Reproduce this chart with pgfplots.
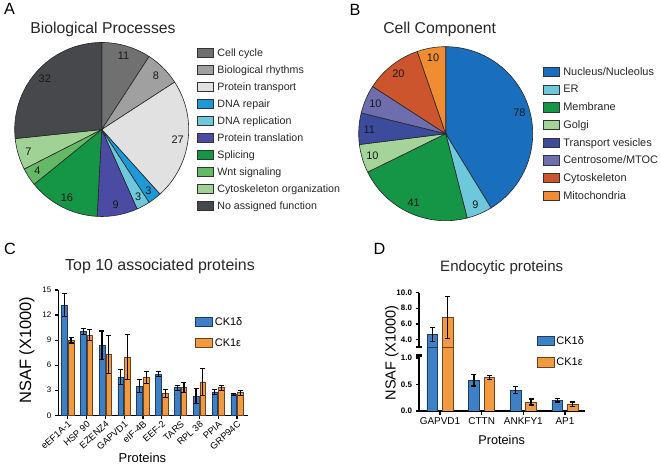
\documentclass[border=0pt]{standalone}
\usepackage{pgfplots}
\usepackage{pgfplotstable}
\usepackage{fontspec}
\setmainfont{Liberation Sans}
\pgfplotsset{compat=1.18}

% pie colours
\definecolor{bpA}{HTML}{707070}
\definecolor{bpB}{HTML}{A0A0A0}
\definecolor{bpC}{HTML}{E1E1E1}
\definecolor{bpD}{HTML}{1B9AD7}
\definecolor{bpE}{HTML}{6EC8DC}
\definecolor{bpF}{HTML}{4B4BA3}
\definecolor{bpG}{HTML}{149646}
\definecolor{bpH}{HTML}{64B964}
\definecolor{bpI}{HTML}{A0D296}
\definecolor{bpJ}{HTML}{46484B}
\definecolor{ccA}{HTML}{196EBE}
\definecolor{ccB}{HTML}{6EC8DC}
\definecolor{ccC}{HTML}{149646}
\definecolor{ccD}{HTML}{A5D49B}
\definecolor{ccE}{HTML}{3C4B9B}
\definecolor{ccF}{HTML}{6E6EAF}
\definecolor{ccG}{HTML}{CD552D}
\definecolor{ccH}{HTML}{F08C32}
% bar colours
\definecolor{ckd}{HTML}{3D80C6}
\definecolor{ckdl}{HTML}{1E3C5E}
\definecolor{cke}{HTML}{F29A3F}
\definecolor{ckel}{HTML}{6A4320}

\pgfplotstableread{
v  c
11 bpA
8  bpB
27 bpC
3  bpD
3  bpE
9  bpF
16 bpG
4  bpH
7  bpI
32 bpJ
}\bioproc

\pgfplotstableread{
v  c
78 ccA
9  ccB
41 ccC
10 ccD
11 ccE
10 ccF
20 ccG
10 ccH
}\cellcomp

% NSAF (x1000), mean and error, CK1d / CK1e
\pgfplotstableread{
x  d     de    e     ee
0  13.2  1.4   9.0   0.35
1  10.0  0.35  9.6   0.65
2  8.4   1.7   7.3   2.3
3  4.6   0.9   7.0   2.7
4  3.5   0.8   4.5   0.7
5  4.9   0.3   2.6   0.45
6  3.3   0.3   3.3   0.6
7  2.3   0.9   4.0   1.6
8  2.8   0.3   3.3   0.3
9  2.5   0.15  2.7   0.3
}\topten

\pgfplotstableread{
x  d     de    e     ee
0  4.64  0.9   6.85  2.67
1  0.58  0.11  0.635 0.04
2  0.395 0.07  0.17  0.055
3  0.20  0.03  0.13  0.04
}\endo

% slices of a pie from a table with columns v (value) and c (colour)
\newcommand\drawpie[1]{%
  \pgfplotstablegetrowsof{#1}%
  \pgfmathtruncatemacro\lastrow{\pgfplotsretval-1}%
  \gdef\pietotal{0}%
  \foreach \i in {0,...,\lastrow}{%
    \pgfplotstablegetelem{\i}{v}\of{#1}%
    \pgfmathsetmacro\tmp{\pietotal+\pgfplotsretval}%
    \global\let\pietotal\tmp
  }%
  \gdef\pieacc{0}%
  \foreach \i in {0,...,\lastrow}{%
    \pgfplotstablegetelem{\i}{v}\of{#1}\let\pv\pgfplotsretval
    \pgfplotstablegetelem{\i}{c}\of{#1}\let\pc\pgfplotsretval
    \pgfmathsetmacro\sa{90-\pieacc/\pietotal*360}%
    \pgfmathsetmacro\ea{90-(\pieacc+\pv)/\pietotal*360}%
    \pgfmathsetmacro\ma{(\sa+\ea)/2}%
    \pgfmathsetmacro\px{cos(\sa)}%
    \pgfmathsetmacro\py{sin(\sa)}%
    \pgfmathsetmacro\lx{0.88*cos(\ma)}%
    \pgfmathsetmacro\ly{0.88*sin(\ma)}%
    \filldraw[fill=\pc, draw=black!85, line width=0.6bp]
      (axis cs:0,0) -- (axis cs:\px,\py)
      arc[start angle=\sa, end angle=\ea, radius=87bp] -- cycle;
    \node[font=\fontsize{11}{13}\selectfont, text=black!90] at (axis cs:\lx,\ly) {\pv};
    \pgfmathsetmacro\tmp{\pieacc+\pv}%
    \global\let\pieacc\tmp
  }%
}

\pgfplotsset{
  pie/.style={
    scale only axis, width=174bp, height=174bp,
    xmin=-1, xmax=1, ymin=-1, ymax=1, hide axis, clip=false,
    legend image code/.code={\draw[draw=black!80, line width=0.5bp, ##1] (0bp,-1.2bp) rectangle (16bp,8bp);},
    legend style={draw=none, fill=none, inner sep=0pt, column sep=4bp, anchor=north west,
      text=black!85,
      nodes={inner sep=0pt, text height=8.5bp, text depth=2.5bp},
      cells={anchor=base west}},
  },
  barbox/.style={legend image code/.code={\draw[##1] (0bp,-1.3bp) rectangle (17bp,8.3bp);}},
  nsaf/.style={
    scale only axis, separate axis lines,
    axis x line*=bottom, axis y line*=left,
    axis line style={-, line width=1.5bp, black},
    tick align=outside, major tick length=3.5bp,
    tick style={line width=1.2bp, black},
    /pgf/number format/assume math mode=true,
    error bars/error bar style={line width=1.2bp, black},
    error bars/error mark options={rotate=90, mark size=2.5bp, line width=1.2bp, black},
    legend style={draw=none, fill=none, inner sep=0pt, column sep=2bp, anchor=north west,
      row sep=10bp, font=\fontsize{11}{13}\selectfont,
      nodes={inner sep=0pt, text height=8.5bp, text depth=2.5bp},
      cells={anchor=base west}},
  },
}

\begin{document}
\begin{tikzpicture}
\useasboundingbox (0,0) rectangle (660bp,470bp);

% ---- A
\node[anchor=base west, font=\fontsize{16.3}{18}\selectfont] at (0.5bp,455bp) {A};
\node[anchor=base, font=\fontsize{15.8}{18}\selectfont, text=black!85] at (103bp,436.7bp) {Biological Processes};
\begin{axis}[pie, at={(101.7bp,340.5bp)}, anchor=center,
  legend style={at={(axis description cs:1.046,0.972)}, row sep=6bp,
    font=\fontsize{10.7}{12}\selectfont}]
\pgfplotsextra{\drawpie{\bioproc}}
\addlegendimage{fill=bpA}\addlegendentry{Cell cycle}
\addlegendimage{fill=bpB}\addlegendentry{Biological rhythms}
\addlegendimage{fill=bpC}\addlegendentry{Protein transport}
\addlegendimage{fill=bpD}\addlegendentry{DNA repair}
\addlegendimage{fill=bpE}\addlegendentry{DNA replication}
\addlegendimage{fill=bpF}\addlegendentry{Protein translation}
\addlegendimage{fill=bpG}\addlegendentry{Splicing}
\addlegendimage{fill=bpH}\addlegendentry{Wnt signaling}
\addlegendimage{fill=bpI}\addlegendentry{Cytoskeleton organization}
\addlegendimage{fill=bpJ}\addlegendentry{No assigned function}
\end{axis}

% ---- B
\node[anchor=base west, font=\fontsize{16.3}{18}\selectfont] at (346bp,454bp) {B};
\node[anchor=base, font=\fontsize{15.8}{18}\selectfont, text=black!85] at (439.7bp,436.7bp) {Cell Component};
\begin{axis}[pie, at={(445.7bp,336.3bp)}, anchor=center,
  legend style={at={(axis description cs:1.057,0.886)}, row sep=6.7bp,
    font=\fontsize{11}{12}\selectfont}]
\pgfplotsextra{\drawpie{\cellcomp}}
\addlegendimage{fill=ccA}\addlegendentry{Nucleus/Nucleolus}
\addlegendimage{fill=ccB}\addlegendentry{ER}
\addlegendimage{fill=ccC}\addlegendentry{Membrane}
\addlegendimage{fill=ccD}\addlegendentry{Golgi}
\addlegendimage{fill=ccE}\addlegendentry{Transport vesicles}
\addlegendimage{fill=ccF}\addlegendentry{Centrosome/MTOC}
\addlegendimage{fill=ccG}\addlegendentry{Cytoskeleton}
\addlegendimage{fill=ccH}\addlegendentry{Mitochondria}
\end{axis}

% ---- C
\node[anchor=base west, font=\fontsize{16.3}{18}\selectfont] at (0.5bp,215bp) {C};
\node[anchor=base, font=\fontsize{16}{18}\selectfont, text=black!85] at (160bp,199.3bp) {Top 10 associated proteins};
\begin{axis}[nsaf,
  at={(58.3bp,54.7bp)}, anchor=south west, width=190bp, height=125.3bp,
  ybar=1bp, bar width=5.7bp,
  xmin=-0.5, xmax=9.6, ymin=0, ymax=15,
  xtick={0,...,9},
  xticklabels={eEF1A-1,HSP 90,EZENZ4,GAPVD1,eIF-4B,EEF-2,TARS,RPL 38,PPIA,GRP94C},
  xticklabel style={rotate=42, anchor=north east, inner sep=1bp, font=\fontsize{9.3}{10}\selectfont},
  ytick={0,3,...,15},
  yticklabel style={font=\fontsize{8}{10}\selectfont},
  ylabel={NSAF (X1000)},
  ylabel style={at={(axis description cs:-0.165,0.52)}, anchor=center, font=\fontsize{16.5}{18}\selectfont},
  xlabel={Proteins},
  xlabel style={at={(axis description cs:0.443,-0.34)}, anchor=center, font=\fontsize{13}{15}\selectfont},
  legend style={at={(axis description cs:0.72,0.79)}},
]
\addplot[fill=ckd, draw=ckdl, line width=0.6bp, barbox,
  error bars/.cd, y dir=both, y explicit]
  table[x=x, y=d, y error=de] {\topten};
\addlegendentry{CK1δ}
\addplot[fill=cke, draw=ckel, line width=0.6bp, barbox,
  error bars/.cd, y dir=both, y explicit]
  table[x=x, y=e, y error=ee] {\topten};
\addlegendentry{CK1ε}
\end{axis}

% ---- D
\node[anchor=base west, font=\fontsize{16.3}{18}\selectfont] at (370bp,215bp) {D};
\node[anchor=base, font=\fontsize{15.1}{18}\selectfont, text=black!85] at (501.7bp,198.3bp) {Endocytic proteins};
% lower segment 0 -- 1.2
\begin{axis}[nsaf,
  at={(419bp,59bp)}, anchor=south west, width=166bp, height=63.6bp,
  ybar=4.7bp, bar width=10.7bp,
  xmin=-0.504, xmax=3.48, ymin=0, ymax=1.2,
  clip marker paths=true,
  y axis line style={shorten >=8bp},
  xtick={0,...,3},
  xticklabels={GAPVD1,CTTN,ANKFY1,AP1},
  xticklabel style={font=\fontsize{10}{12}\selectfont},
  ytick={0,0.5,1}, yticklabels={0.0,0.5,1.0},
  yticklabel style={font=\bfseries\fontsize{8}{9}\selectfont},
  extra y ticks={1.047}, extra y tick labels={},
  extra y tick style={tick align=center, major tick length=6bp, tick style={line width=2.2bp}},
  ylabel={NSAF (X1000)},
  ylabel style={at={(axis description cs:-0.164,0.912)}, anchor=center, font=\fontsize{14.6}{16}\selectfont},
  xlabel={Proteins},
  xlabel style={at={(axis description cs:0.498,-0.456)}, anchor=center, font=\fontsize{12.7}{15}\selectfont},
  legend style={at={(axis description cs:0.709,1.184)}},
]
\addplot[fill=ckd, draw=ckdl, line width=0.6bp, barbox,
  error bars/.cd, y dir=both, y explicit]
  table[x=x, y=d, y error=de] {\endo};
\addlegendentry{CK1δ}
\addplot[fill=cke, draw=ckel, line width=0.6bp, barbox,
  error bars/.cd, y dir=both, y explicit]
  table[x=x, y=e, y error=ee] {\endo};
\addlegendentry{CK1ε}
\end{axis}
% upper segment 3 -- 10 (only GAPVD1 reaches it)
\begin{axis}[nsaf,
  at={(419bp,122.6bp)}, anchor=south west, width=166bp, height=54.8bp,
  ybar=4.7bp, bar width=10.7bp,
  xmin=-0.504, xmax=3.48, ymin=3, ymax=10,
  clip marker paths=true,
  axis x line=none,
  ytick={4,6,8,10}, yticklabels={4.0,6.0,8.0,10.0},
  yticklabel style={font=\bfseries\fontsize{8}{9}\selectfont},
  extra y ticks={3}, extra y tick labels={},
  extra y tick style={tick align=center, major tick length=6bp, tick style={line width=2.2bp}},
]
\addplot[fill=ckd, draw=ckdl, line width=0.6bp, skip coords between index={1}{4},
  error bars/.cd, y dir=both, y explicit]
  table[x=x, y=d, y error=de] {\endo};
\addplot[fill=cke, draw=ckel, line width=0.6bp, skip coords between index={1}{4},
  error bars/.cd, y dir=both, y explicit]
  table[x=x, y=e, y error=ee] {\endo};
\end{axis}
\end{tikzpicture}
\end{document}
